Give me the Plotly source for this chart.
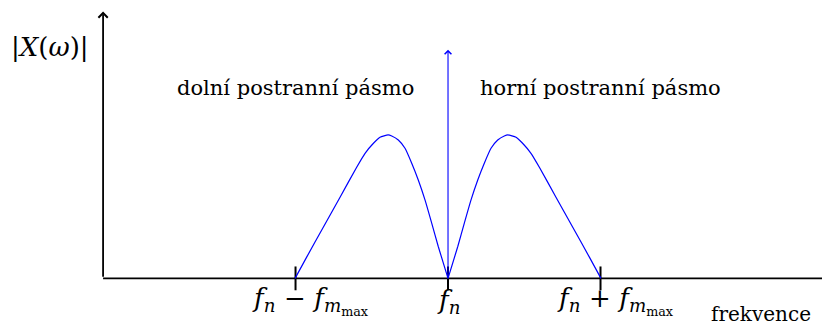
import plotly.graph_objects as go

# Frequency axis in units of f_m,max, centred on the carrier f_n
tick_vals = [-1.0, 0.0, 1.0]
tick_text = [
    "<i>f</i><sub><i>n</i></sub>\u2004−\u2004<i>f</i><sub><i>m</i><sub>max</sub></sub>",
    "<i>f</i><sub><i>n</i></sub>",
    "<i>f</i><sub><i>n</i></sub>\u2004+\u2004<i>f</i><sub><i>m</i><sub>max</sub></sub>",
]
# labels with the long subscript sit slightly right of their tick
tick_label_shift = [0.1, 0.0, 0.1]

# Lower sideband magnitude
lsb_x = [-1.003, -0.927, -0.818, -0.708, -0.599, -0.544, -0.489, -0.446, -0.393,
         -0.369, -0.326, -0.282, -0.238, -0.195, -0.151, -0.107, -0.064, 0.0]
lsb_y = [0.0, 0.148, 0.357, 0.566, 0.775, 0.872, 0.942, 0.984, 1.0,
         0.993, 0.965, 0.907, 0.803, 0.686, 0.547, 0.385, 0.222, 0.0]

# Upper sideband magnitude
usb_x = [0.0, 0.064, 0.107, 0.151, 0.195, 0.238, 0.282, 0.326, 0.369,
         0.393, 0.446, 0.489, 0.544, 0.599, 0.708, 0.818, 0.927, 1.003]
usb_y = [0.0, 0.222, 0.385, 0.547, 0.686, 0.803, 0.907, 0.965, 0.993,
         1.0, 0.984, 0.942, 0.872, 0.775, 0.566, 0.357, 0.148, 0.0]

# Carrier spike height
carrier_x = 0.0
carrier_y = 1.594

axis_x0 = -2.262
axis_x_end = 2.6
axis_y_top = 1.86

X_RANGE = [-2.938, 2.4525]
Y_RANGE = [-0.353, 1.941]

FONT = "DejaVu Serif"
BLUE = "#0000ff"

fig = go.Figure()

# Horizontal frequency axis
fig.add_trace(go.Scatter(x=[axis_x0, axis_x_end], y=[0, 0], mode="lines",
                         line=dict(color="black", width=1.8), hoverinfo="skip"))

# Tick marks crossing the axis
fig.add_trace(go.Scatter(x=tick_vals, y=[0] * len(tick_vals), mode="markers",
                         marker=dict(symbol="line-ns", size=17,
                                     line=dict(color="black", width=2)),
                         hoverinfo="skip"))

# Sidebands
fig.add_trace(go.Scatter(x=lsb_x, y=lsb_y, mode="lines",
                         line=dict(color=BLUE, width=1.2, shape="spline", smoothing=0.5)))
fig.add_trace(go.Scatter(x=usb_x, y=usb_y, mode="lines",
                         line=dict(color=BLUE, width=1.2, shape="spline", smoothing=0.5)))

annotations = []

# Vertical magnitude axis with arrow
annotations.append(dict(x=axis_x0, y=axis_y_top, ax=axis_x0, ay=0,
                        xref="x", yref="y", axref="x", ayref="y",
                        showarrow=True, arrowhead=4, arrowsize=1.0, arrowwidth=1.8,
                        arrowcolor="black", text=""))

# Carrier spike
annotations.append(dict(x=carrier_x, y=carrier_y, ax=carrier_x, ay=0,
                        xref="x", yref="y", axref="x", ayref="y",
                        showarrow=True, arrowhead=4, arrowsize=1.2, arrowwidth=1.1,
                        arrowcolor=BLUE, text=""))

# Tick labels
for tv, tt, sh in zip(tick_vals, tick_text, tick_label_shift):
    annotations.append(dict(x=tv + sh, y=-0.16, xref="x", yref="y", text=tt,
                            showarrow=False, xanchor="center", yanchor="middle",
                            font=dict(family=FONT, size=26, color="black")))

# Axis titles and band labels
annotations.append(dict(x=-2.61, y=1.61, xref="x", yref="y",
                        text="|<i>X</i>(<i>ω</i>)|", showarrow=False,
                        xanchor="center", yanchor="middle",
                        font=dict(family=FONT, size=26, color="black")))
annotations.append(dict(x=2.387, y=-0.25, xref="x", yref="y",
                        text="frekvence", showarrow=False,
                        xanchor="right", yanchor="middle", borderpad=0,
                        font=dict(family=FONT, size=20, color="black")))
annotations.append(dict(x=-1.0, y=1.325, xref="x", yref="y",
                        text="dolní postranní pásmo", showarrow=False,
                        xanchor="center", yanchor="middle",
                        font=dict(family=FONT, size=21, color="black")))
annotations.append(dict(x=1.0, y=1.325, xref="x", yref="y",
                        text="horní postranní pásmo", showarrow=False,
                        xanchor="center", yanchor="middle",
                        font=dict(family=FONT, size=21, color="black")))

fig.update_layout(
    width=822, height=329,
    margin=dict(l=0, r=0, t=0, b=0),
    paper_bgcolor="white", plot_bgcolor="white",
    showlegend=False,
    xaxis=dict(range=X_RANGE, visible=False, fixedrange=True),
    yaxis=dict(range=Y_RANGE, visible=False, fixedrange=True),
    annotations=annotations,
)

fig.write_html("out.html", config={"displayModeBar": False})
